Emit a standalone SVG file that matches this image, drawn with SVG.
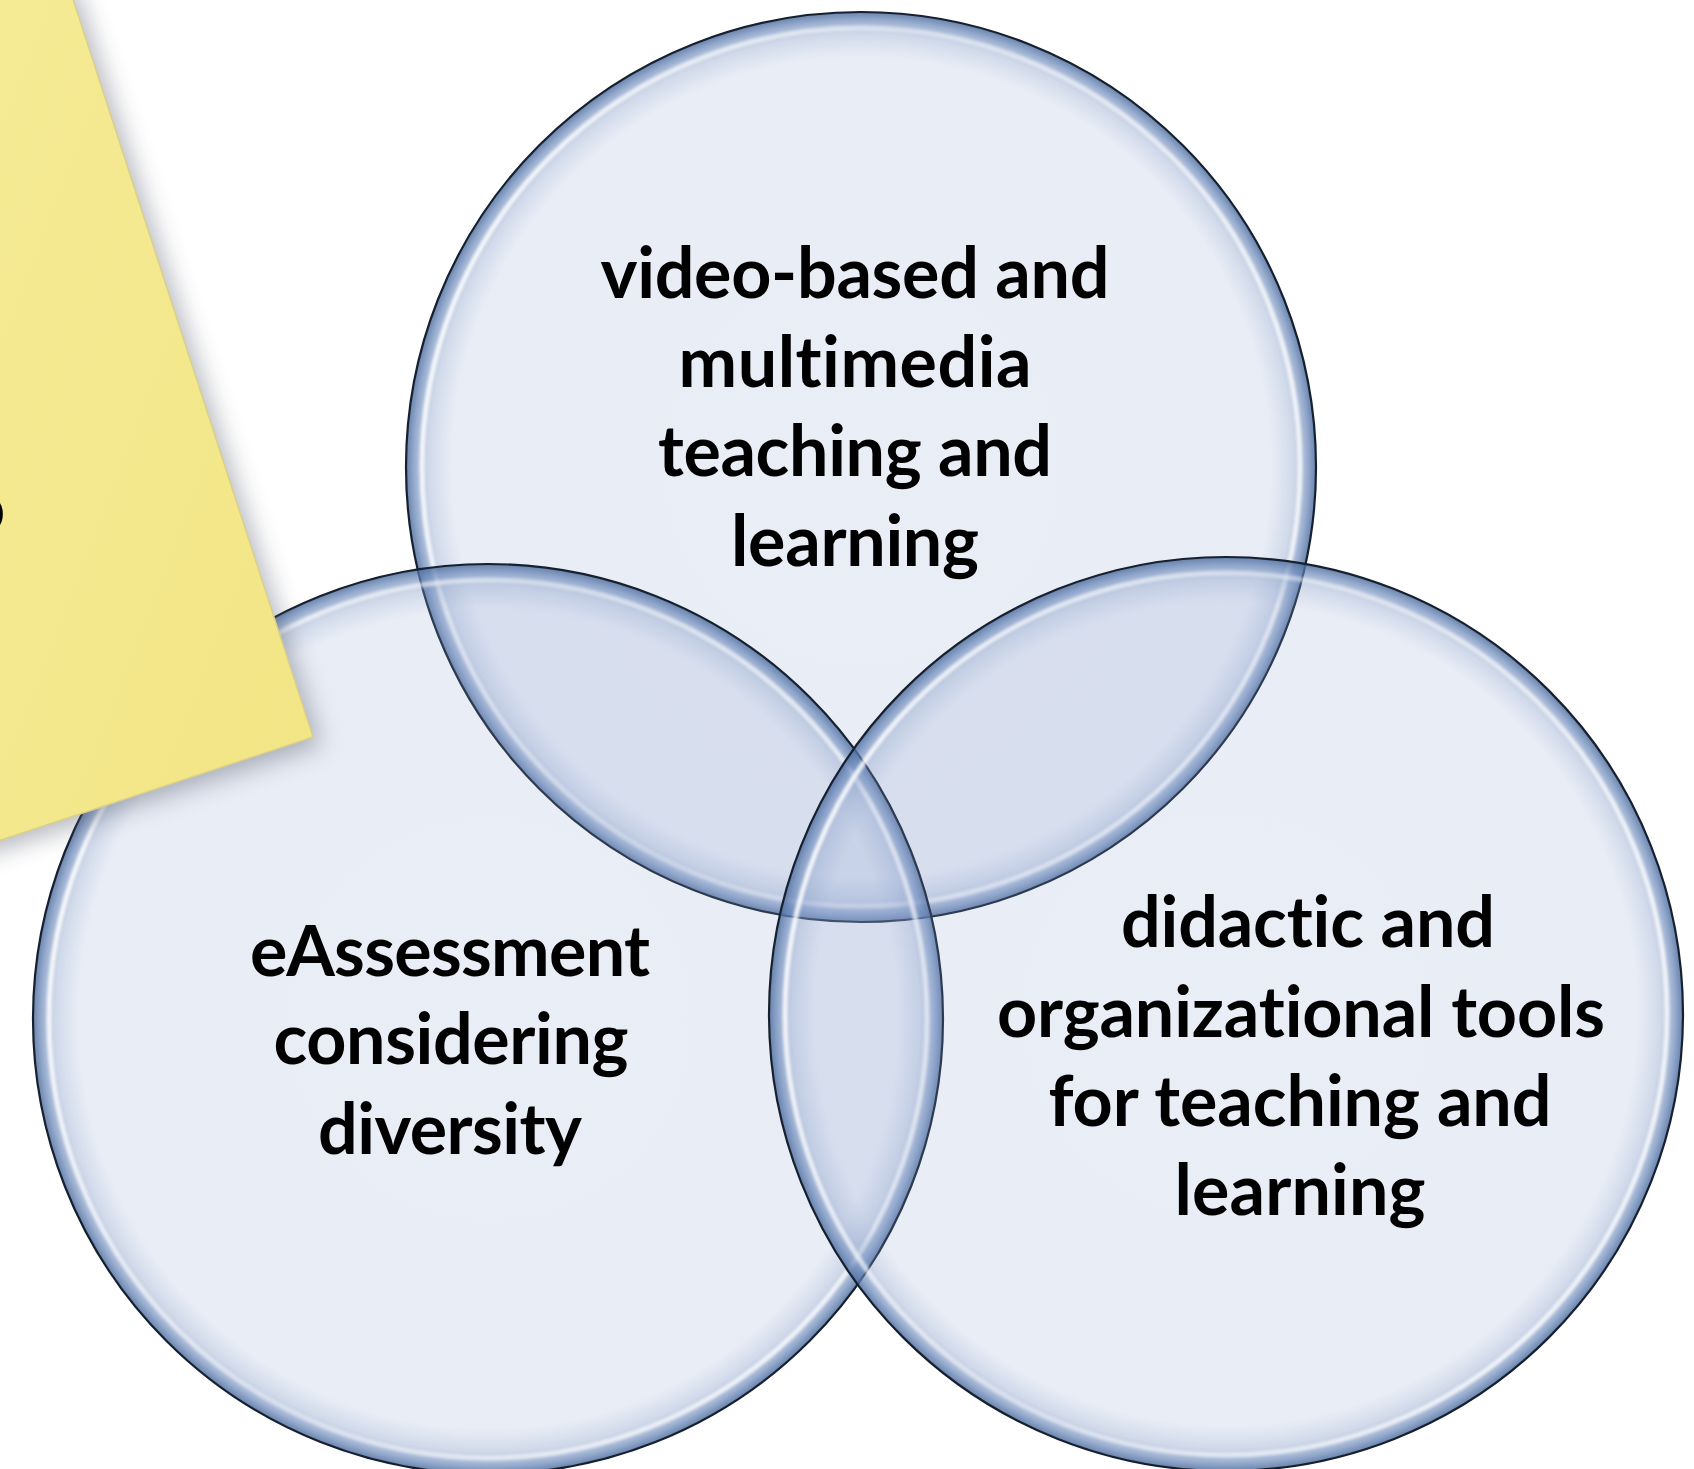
<svg xmlns="http://www.w3.org/2000/svg" width="1694" height="1469" viewBox="0 0 1694 1469">
  <defs>
    <radialGradient id="circFill" cx="0.5" cy="0.5" r="0.5">
      <stop offset="0" stop-color="#8fa3d0" stop-opacity="0.19"/>
      <stop offset="0.9" stop-color="#8fa3d0" stop-opacity="0.2"/>
      <stop offset="0.95" stop-color="#7e97c4" stop-opacity="0.36"/>
      <stop offset="0.98" stop-color="#6685b8" stop-opacity="0.65"/>
      <stop offset="1" stop-color="#4d6d9e" stop-opacity="0.85"/>
    </radialGradient>
    <linearGradient id="hiGrad" x1="0" y1="0" x2="1" y2="0.3">
      <stop offset="0" stop-color="#ffffff" stop-opacity="1"/>
      <stop offset="0.5" stop-color="#ffffff" stop-opacity="0.45"/>
      <stop offset="1" stop-color="#ffffff" stop-opacity="0.8"/>
    </linearGradient>
    <linearGradient id="noteGrad" x1="0" y1="0" x2="1" y2="1">
      <stop offset="0" stop-color="#f5eb95"/>
      <stop offset="1" stop-color="#f2e585"/>
    </linearGradient>
    <filter id="soft" x="-20%" y="-20%" width="140%" height="140%">
      <feGaussianBlur stdDeviation="1.5"/>
    </filter>
    <filter id="shadow" x="-30%" y="-30%" width="160%" height="160%">
      <feGaussianBlur stdDeviation="12"/>
    </filter>
    <style>
      .fill { fill: url(#circFill); }
      .hi { fill: none; stroke: url(#hiGrad); stroke-width: 5; filter: url(#soft); }
      .edge { fill: none; stroke: #16202e; stroke-width: 2.2; }
      .lbl { font-family: Lato, "Open Sans", "Liberation Sans", sans-serif; font-weight: 700; font-size: 70px; fill: #000; text-anchor: middle; font-variant-ligatures: none; font-feature-settings: "liga" 0, "clig" 0; }
    </style>
  </defs>
  <rect width="1694" height="1469" fill="#ffffff"/>

  <g id="node-video">
    <circle class="fill" cx="861" cy="467" r="455"/>
    <circle class="hi" cx="861" cy="467" r="439"/>
    <circle class="edge" cx="861" cy="467" r="455"/>
    <text class="lbl" x="855" y="298" textLength="509" lengthAdjust="spacing">video-based and</text>
    <text class="lbl" x="855" y="387" textLength="353" lengthAdjust="spacing">multimedia</text>
    <text class="lbl" x="855" y="476" textLength="394" lengthAdjust="spacing">teaching and</text>
    <text class="lbl" x="855" y="566" textLength="248" lengthAdjust="spacing">learning</text>
  </g>

  <g id="node-eassessment">
    <circle class="fill" cx="488" cy="1019" r="455"/>
    <circle class="hi" cx="488" cy="1019" r="439"/>
    <circle class="edge" cx="488" cy="1019" r="455"/>
    <text class="lbl" x="450" y="976" textLength="400" lengthAdjust="spacing">eAssessment</text>
    <text class="lbl" x="451" y="1064" textLength="355" lengthAdjust="spacing">considering</text>
    <text class="lbl" x="450" y="1154" textLength="264" lengthAdjust="spacing">diversity</text>
  </g>

  <g id="node-didactic">
    <circle class="fill" cx="1226" cy="1014" r="457"/>
    <circle class="hi" cx="1226" cy="1014" r="441"/>
    <circle class="edge" cx="1226" cy="1014" r="457"/>
    <text class="lbl" x="1308" y="947" textLength="374" lengthAdjust="spacing">didactic and</text>
    <text class="lbl" x="1301" y="1037" textLength="608" lengthAdjust="spacing">organizational tools</text>
    <text class="lbl" x="1300" y="1126" textLength="503" lengthAdjust="spacing">for teaching and</text>
    <text class="lbl" x="1300" y="1215" textLength="251" lengthAdjust="spacing">learning</text>
  </g>

  <g id="connectors"></g>

  <g id="note">
    <polygon points="-20,-10 76,-10 321,745 -20,856" fill="#5a5f70" opacity="0.45" filter="url(#shadow)"/>
    <polygon points="-20,-10 70,-10 313,737 -20,847" fill="url(#noteGrad)" stroke="#d9d08a" stroke-width="1.5"/>
    <text class="lbl" x="-35" y="532" style="text-anchor:start">o</text>
  </g>
</svg>
